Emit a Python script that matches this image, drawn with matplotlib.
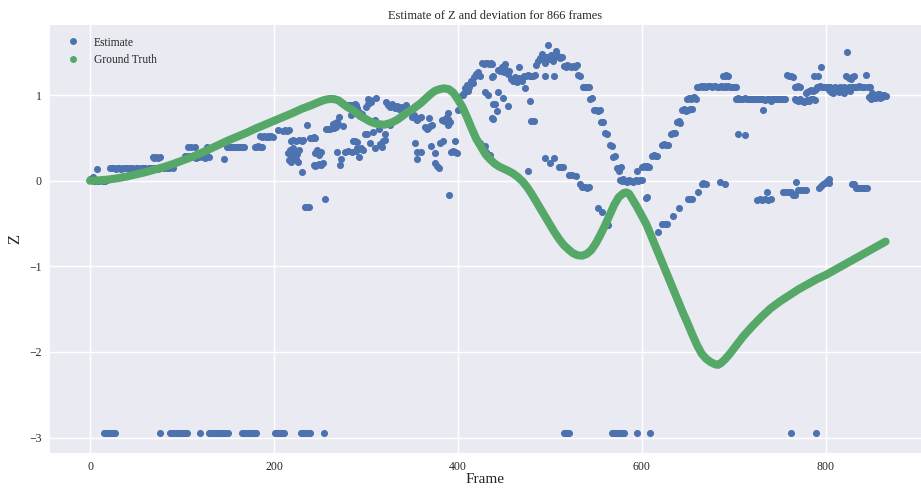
import matplotlib
matplotlib.use("Agg")
import matplotlib.pyplot as plt
import seaborn as sns
from matplotlib.lines import Line2D

sns.set_style("darkgrid")
plt.rcParams['font.family'] = ['Liberation Serif', 'DejaVu Serif']

title = "Estimate of Z and deviation for 866 frames"
xlabel = "Frame"
ylabel = "Z"
xticks = [0, 200, 400, 600, 800]
yticks = [-3, -2, -1, 0, 1]

# Ground truth
gt_frames = [0, 10, 20, 30, 40, 50, 60, 70, 80, 90, 100, 110, 120, 130, 140, 150,
             160, 170, 180, 190, 200, 210, 220, 230, 240, 250, 255, 260, 265, 270,
             275, 280, 285, 290, 295, 300, 305, 310, 315, 320, 325, 330, 335, 340,
             345, 350, 355, 360, 365, 370, 375, 380, 385, 390, 395, 400, 405, 410,
             415, 420, 425, 430, 435, 440, 445, 450, 455, 460, 465, 470, 475, 480,
             485, 490, 495, 500, 505, 510, 515, 520, 525, 530, 535, 540, 545, 550,
             555, 560, 565, 570, 575, 580, 583, 586, 590, 595, 600, 605, 610, 615,
             620, 625, 630, 635, 640, 645, 650, 655, 660, 665, 670, 675, 680, 683,
             686, 690, 695, 700, 705, 710, 715, 720, 725, 730, 740, 750, 760, 770,
             780, 790, 800, 810, 820, 830, 840, 850, 860, 865]
gt_z = [0.0, 0.005, 0.015, 0.03, 0.05, 0.075, 0.10, 0.13, 0.16, 0.195, 0.235, 0.275, 0.32, 0.37, 0.42, 0.47,
        0.515, 0.56, 0.61, 0.655, 0.70, 0.745, 0.79, 0.84, 0.88, 0.925, 0.945, 0.955, 0.955, 0.94,
        0.90, 0.86, 0.83, 0.79, 0.75, 0.72, 0.69, 0.67, 0.66, 0.655, 0.67, 0.69, 0.72, 0.76,
        0.80, 0.83, 0.87, 0.91, 0.96, 1.01, 1.05, 1.07, 1.08, 1.07, 1.03, 0.95, 0.86, 0.74,
        0.61, 0.49, 0.40, 0.31, 0.25, 0.20, 0.165, 0.14, 0.115, 0.085, 0.045, -0.005, -0.07, -0.15,
        -0.24, -0.33, -0.42, -0.51, -0.60, -0.68, -0.75, -0.80, -0.845, -0.87, -0.875, -0.855, -0.81, -0.73,
        -0.63, -0.52, -0.40, -0.28, -0.19, -0.145, -0.135, -0.15, -0.22, -0.31, -0.41, -0.51, -0.64, -0.77,
        -0.90, -1.03, -1.16, -1.29, -1.42, -1.55, -1.67, -1.80, -1.92, -2.02, -2.08, -2.12, -2.145, -2.15,
        -2.13, -2.09, -2.03, -1.96, -1.89, -1.82, -1.76, -1.70, -1.645, -1.59, -1.49, -1.41, -1.34, -1.27,
        -1.21, -1.15, -1.10, -1.04, -0.98, -0.92, -0.86, -0.80, -0.74, -0.71]

# Estimate
est_frames = [
    0, 2, 4, 6, 8, 10, 12, 14, 16, 18, 3, 8,
    22, 24, 26, 28, 30, 32, 34, 36, 38, 40, 42, 44,
    46, 48, 50, 52, 54, 56, 58, 60, 62, 64, 66, 68,
    70, 72, 74, 76, 78, 80, 82, 84, 86, 88, 90,
    68, 70, 72, 74, 76,
    103, 105, 107, 109, 111, 113, 115, 117, 119, 121, 123, 125, 127, 129,
    107, 110, 114, 127, 146,
    149, 151, 153, 155, 157, 159, 161, 163, 165, 167,
    179, 181, 183, 185, 187,
    185, 187, 189, 191, 193, 195, 197, 199,
    204, 210, 212, 214, 216,
    218, 221, 224, 227, 230, 232,
    236, 239, 241, 243, 245,
    215, 217, 219, 221, 223, 225, 227, 216, 218, 221, 224, 226,
    230, 234, 236, 238, 256,
    245, 247, 249, 251,
    243, 245, 247, 249, 251, 253,
    257, 259, 261, 263, 265, 267, 264, 266, 268, 270, 271, 275,
    268, 272, 273,
    277, 281, 285, 289,
    281, 283, 285, 287, 289, 284, 286, 288, 290,
    288, 290, 292, 294, 296, 290, 292, 295, 297, 293,
    299, 301, 300, 302, 304, 306, 302, 311, 304, 308, 310, 310, 314,
    315, 317, 319, 321, 321,
    322, 324, 326, 328, 330, 332, 334, 336, 338, 340, 326, 344,
    350, 352, 354, 356, 358, 360, 353, 355, 355, 360,
    364, 366, 368, 370, 372, 369, 371, 375, 375, 377, 379, 380, 384,
    383, 385, 387, 389, 391, 389, 389, 390,
    393, 395, 397, 399, 397, 400, 406,
    408, 410, 412, 414, 416, 418, 420, 422, 424, 404, 407, 411,
    426, 428, 430, 432, 434, 436, 429, 433, 437, 438, 437, 429, 435,
    424, 427, 431,
    437, 438, 444, 446, 448, 450, 452, 454, 456, 451, 444, 440, 442, 449, 455, 438,
    458, 460, 462, 464, 466, 468, 470, 472, 474, 476, 478, 480, 482, 484, 466,
    473, 478, 480, 483, 476,
    485, 487, 489, 491, 493, 495, 497, 498, 499, 501, 503, 505, 507, 509, 511, 513,
    495, 504,
    515, 517, 519, 521, 523, 525, 527, 529, 531, 533,
    536, 538, 540, 542, 544, 546, 548, 550, 552, 554, 556, 558, 560, 562,
    565, 567, 569, 571, 573, 575, 577,
    576, 578, 580, 582, 584, 586, 588, 590, 592, 594, 596, 598, 600,
    495, 500, 505, 510, 512, 514, 521, 524, 528, 533, 535, 538, 540, 542, 552, 557, 563,
    595, 600, 602, 604, 606, 608, 604, 606, 611, 613, 615, 617,
    622, 624, 626, 628, 632, 634, 636, 638, 640, 642,
    644, 646, 648, 650, 652, 654, 649, 651, 653, 655, 657, 659,
    618, 622, 625, 627, 634, 640, 650, 652, 655, 661, 665, 667, 670, 685, 690,
    660, 662, 664, 666, 668, 670, 672, 674, 676, 678, 680, 682,
    684, 686, 688, 690, 692, 694, 696, 698, 700, 702, 688, 690, 692, 694,
    702, 704, 706, 708, 710, 712, 714, 716, 718, 720, 722, 724, 726, 728,
    730, 732, 734, 736, 738, 740, 742, 744, 746, 748, 750, 752, 754, 756,
    705, 712, 732,
    725, 728, 731, 734, 737, 736, 740, 753, 756, 759, 762, 764, 766,
    768, 770, 773, 776, 779, 793, 795, 797, 799, 801, 803, 804,
    828, 831, 833, 835, 837, 839, 841, 843, 845,
    758, 760, 762, 764, 766, 768, 770, 772, 766, 768, 770, 772,
    774, 776, 778, 780, 782, 784, 786, 788, 778, 780, 782, 784, 786, 788, 790,
    787, 791, 795, 790, 792, 794, 796, 798, 800, 802, 804, 806, 808, 810,
    812, 814, 816, 818, 820, 822, 824, 826, 805, 810, 815, 820, 825,
    823, 822, 825, 827, 829, 831, 828, 830, 832, 834, 836, 838, 840, 842, 844, 846, 848,
    847, 849, 851, 853, 855, 857, 859, 861, 863, 865, 850, 854, 858, 862,
    15, 17, 19, 21, 23, 25, 27, 76, 87, 89, 91, 93, 95, 97, 99, 101, 103, 105,
    120, 129, 131, 133, 135, 137, 139, 141, 143, 145, 147, 150,
    165, 167, 169, 171, 173, 175, 177, 179, 181, 201, 203, 205, 207, 209, 211,
    229, 231, 233, 235, 237, 239, 254, 515, 517, 519, 521,
    567, 569, 571, 573, 575, 577, 579, 581, 595, 609, 762, 789,
]
est_z = [
    0.02, 0.01, 0.0, 0.01, 0.0, 0.0, 0.01, 0.0, 0.0, 0.01, 0.04, 0.14,
    0.15, 0.15, 0.15, 0.14, 0.15, 0.15, 0.14, 0.15, 0.15, 0.15, 0.14, 0.15,
    0.15, 0.14, 0.15, 0.15, 0.14, 0.15, 0.15, 0.15, 0.14, 0.15, 0.15, 0.15,
    0.15, 0.15, 0.14, 0.15, 0.16, 0.15, 0.16, 0.15, 0.15, 0.16, 0.15,
    0.28, 0.27, 0.28, 0.27, 0.28,
    0.29, 0.28, 0.29, 0.28, 0.29, 0.28, 0.27, 0.29, 0.28, 0.29, 0.28, 0.27, 0.29, 0.28,
    0.40, 0.40, 0.40, 0.39, 0.26,
    0.39, 0.39, 0.40, 0.39, 0.39, 0.40, 0.39, 0.39, 0.39, 0.40,
    0.40, 0.40, 0.41, 0.40, 0.40,
    0.52, 0.51, 0.52, 0.51, 0.52, 0.51, 0.52, 0.51,
    0.59, 0.58, 0.59, 0.58, 0.59,
    0.47, 0.48, 0.47, 0.48, 0.47, 0.48,
    0.65, 0.50, 0.50, 0.51, 0.50,
    0.33, 0.36, 0.30, 0.38, 0.34, 0.31, 0.36, 0.24, 0.22, 0.26, 0.25, 0.22,
    0.10, -0.31, -0.31, -0.31, -0.21,
    0.33, 0.36, 0.30, 0.34,
    0.19, 0.17, 0.18, 0.20, 0.19, 0.21,
    0.61, 0.60, 0.61, 0.62, 0.62, 0.63, 0.66, 0.68, 0.69, 0.66, 0.74, 0.64,
    0.34, 0.19, 0.26,
    0.34, 0.35, 0.34, 0.35,
    0.88, 0.89, 0.88, 0.89, 0.88, 0.77, 0.46, 0.46, 0.45,
    0.90, 0.85, 0.80, 0.76, 0.78, 0.38, 0.37, 0.38, 0.36, 0.28,
    0.55, 0.55, 0.86, 0.90, 0.94, 0.92, 0.96, 0.97, 0.44, 0.57, 0.38, 0.71, 0.61,
    0.43, 0.40, 0.46, 0.48, 0.55,
    0.92, 0.88, 0.86, 0.90, 0.87, 0.85, 0.87, 0.84, 0.86, 0.84, 0.65, 0.88,
    0.74, 0.77, 0.72, 0.71, 0.73, 0.75, 0.44, 0.34, 0.26, 0.34,
    0.63, 0.61, 0.62, 0.64, 0.65, 0.73, 0.41, 0.32, 0.21, 0.17, 0.15, 0.44, 0.46,
    0.71, 0.70, 0.73, 0.72, 0.69, 0.79, 0.65, -0.17,
    0.34, 0.35, 0.34, 0.33, 0.46, 0.83, 1.00,
    1.08, 1.12, 1.10, 1.16, 1.14, 1.21, 1.25, 1.27, 1.23, 1.00, 1.03, 1.05,
    1.38, 1.37, 1.38, 1.38, 1.37, 1.38, 1.04, 1.00, 1.21, 0.90, 0.73, 0.41, 0.30,
    0.44, 0.40, 0.34,
    1.37, 1.23, 1.30, 1.28, 1.33, 1.27, 1.30, 1.25, 1.28, 1.37, 1.04, 0.90, 0.81, 0.97, 0.87, 0.72,
    1.19, 1.17, 1.21, 1.15, 1.20, 1.18, 1.16, 1.22, 1.23, 1.24, 1.23, 1.22, 1.23, 1.24, 1.33,
    1.08, 0.93, 0.70, 0.70, 0.11,
    1.35, 1.40, 1.44, 1.48, 1.42, 1.38, 1.45, 1.59, 1.42, 1.47, 1.40, 1.43, 1.52, 1.46, 1.44, 1.45,
    1.23, 1.23,
    1.34, 1.33, 1.35, 1.34, 1.33, 1.34, 1.33, 1.35, 1.24, 1.22,
    1.10, 1.10, 1.09, 1.10, 0.96, 0.97, 0.83, 0.83, 0.82, 0.83, 0.69, 0.69, 0.56, 0.55,
    0.42, 0.41, 0.28, 0.29, 0.15, 0.11, 0.16,
    0.01, 0.0, 0.02, 0.0, -0.01, 0.01, 0.0, -0.01, 0.0, 0.01, 0.0, 0.01, 0.01,
    0.27, 0.21, 0.27, 0.16, 0.16, 0.16, 0.07, 0.07, 0.06, -0.035, -0.07, -0.07, -0.08, -0.07, -0.32, -0.37, -0.52,
    0.11, 0.16, 0.17, 0.16, 0.17, 0.16, -0.20, -0.19, 0.29, 0.30, 0.29, 0.29,
    0.42, 0.43, 0.42, 0.42, 0.55, 0.56, 0.56, 0.69, 0.70, 0.68,
    0.83, 0.84, 0.82, 0.83, 0.84, 0.84, 0.96, 0.97, 0.96, 0.97, 0.98, 0.96,
    -0.60, -0.51, -0.51, -0.50, -0.41, -0.32, -0.21, -0.21, -0.21, -0.13, -0.04, -0.03, -0.035, -0.015, -0.035,
    1.10, 1.10, 1.11, 1.10, 1.11, 1.10, 1.11, 1.11, 1.10, 1.11, 1.11, 1.10,
    1.10, 1.11, 1.10, 1.11, 1.10, 1.11, 1.10, 1.09, 1.10, 1.09, 1.22, 1.23, 1.24, 1.23,
    0.96, 0.97, 0.95, 0.96, 0.96, 0.97, 0.96, 0.95, 0.96, 0.96, 0.96, 0.95, 0.96, 0.96,
    0.95, 0.96, 0.94, 0.96, 0.95, 0.93, 0.96, 0.95, 0.96, 0.96, 0.95, 0.96, 0.95, 0.96,
    0.55, 0.53, 0.83,
    -0.22, -0.21, -0.22, -0.21, -0.22, -0.13, -0.21, -0.13, -0.13, -0.13, -0.13, -0.17, -0.17,
    -0.01, -0.11, -0.11, -0.11, -0.11, -0.08, -0.06, -0.04, -0.02, 0.0, -0.02, 0.02,
    -0.035, -0.035, -0.08, -0.08, -0.08, -0.08, -0.08, -0.08, -0.08,
    1.24, 1.23, 1.22, 1.21, 1.10, 1.10, 1.11, 1.10, 0.95, 0.94, 0.93, 0.95,
    0.93, 0.92, 0.93, 0.94, 0.93, 0.95, 0.96, 0.94, 1.02, 1.04, 1.05, 1.06, 1.05, 1.06, 1.08,
    1.23, 1.23, 1.33, 1.10, 1.10, 1.11, 1.10, 1.10, 1.10, 1.09, 1.06, 1.04, 1.02, 1.05,
    1.06, 1.04, 1.08, 1.05, 1.03, 1.07, 1.06, 1.05, 1.10, 1.10, 1.10, 1.10, 1.10,
    1.51, 1.22, 1.20, 1.19, 1.21, 1.23, 1.10, 1.10, 1.10, 1.10, 1.11, 1.10, 1.10, 1.10, 1.24, 1.10, 1.10,
    0.98, 0.96, 1.00, 0.97, 0.99, 1.01, 0.97, 0.98, 1.00, 0.99, 1.02, 0.97, 1.01, 1.00,
    -2.95, -2.95, -2.95, -2.95, -2.95, -2.95, -2.95, -2.95, -2.95, -2.95, -2.95, -2.95, -2.95, -2.95, -2.95, -2.95, -2.95, -2.95,
    -2.95, -2.95, -2.95, -2.95, -2.95, -2.95, -2.95, -2.95, -2.95, -2.95, -2.95, -2.95,
    -2.95, -2.95, -2.95, -2.95, -2.95, -2.95, -2.95, -2.95, -2.95, -2.95, -2.95, -2.95, -2.95, -2.95, -2.95,
    -2.95, -2.95, -2.95, -2.95, -2.95, -2.95, -2.95, -2.95, -2.95, -2.95, -2.95,
    -2.95, -2.95, -2.95, -2.95, -2.95, -2.95, -2.95, -2.95, -2.95, -2.95, -2.95, -2.95,
]

blue = "#4C72B0"
green = "#55A868"

fig = plt.figure(figsize=(9.21, 4.90), dpi=100)
ax = fig.add_axes([50 / 921, (490 - 453) / 490, (921 - 50) / 921, (453 - 25) / 490])
ax.set_facecolor("#EAEAF2")

n = min(len(est_frames), len(est_z))
ax.scatter(est_frames[:n], est_z[:n], s=26, color=blue, linewidths=0, zorder=2)
ax.plot(gt_frames, gt_z, color=green, lw=5.8, solid_capstyle='round',
        solid_joinstyle='round', zorder=3)

ax.set_xlim(-43.5, 903.5)
ax.set_ylim(-3.18, 1.82)
ax.set_xticks(xticks)
ax.set_yticks(yticks)
ax.tick_params(axis='both', labelsize=8.5, colors="#262626", length=0, pad=6)
ax.set_title(title, fontsize=8.9, color="#262626", pad=4, x=0.511)
ax.set_xlabel(xlabel, fontsize=11, color="#262626", labelpad=0)
ax.set_ylabel(ylabel, fontsize=12, color="#262626", labelpad=4)
ax.grid(True, color="white", lw=1)
for s in ax.spines.values():
    s.set_visible(False)

handles = [Line2D([], [], marker='o', ls='', color=blue, markersize=5, markeredgewidth=0),
           Line2D([], [], marker='o', ls='', color=green, markersize=5, markeredgewidth=0)]
ax.legend(handles, ["Estimate", "Ground Truth"], loc="upper left", frameon=False,
          fontsize=8.3, handletextpad=0.8, borderaxespad=0.6)

fig.savefig("out.png", dpi=100)
